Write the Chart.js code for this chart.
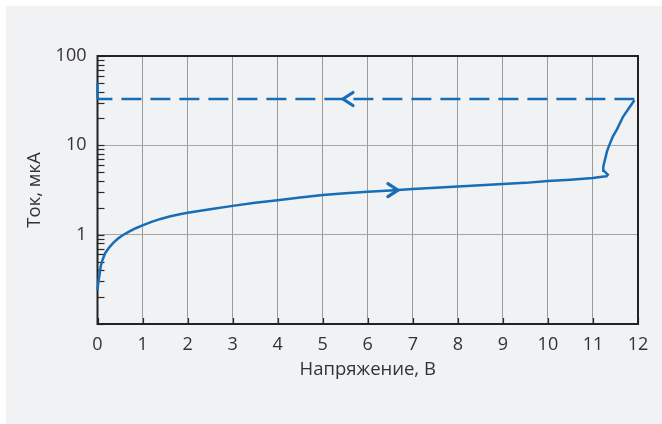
<!DOCTYPE html>
<html>
<head>
<meta charset="utf-8">
<script src="https://cdn.jsdelivr.net/npm/chart.js@4/dist/chart.umd.min.js"></script>
<style>
  html, body { margin: 0; padding: 0; background: #ffffff; }
  canvas { display: block; }
</style>
</head>
<body>
<canvas id="iv" width="662" height="424" style="width:662px;height:424px"></canvas>
<script>
// Forward sweep: voltage (V) and current (µA)
const forwardVoltage = [0, 0.02, 0.04, 0.07, 0.11, 0.17, 0.25, 0.35, 0.45, 0.55, 0.7, 0.85, 1.0, 1.2, 1.4, 1.6, 1.8, 2.0, 2.5, 3.0, 3.5, 4.0, 4.5, 5.0, 5.5, 6.0, 6.5, 7.0, 7.5, 8.0, 8.5, 9.0, 9.5, 10.0, 10.5, 11.0, 11.2, 11.3, 11.33, 11.24, 11.23, 11.27, 11.31, 11.36, 11.44, 11.53, 11.67, 11.82, 11.92];
const forwardCurrent = [0.24, 0.3, 0.34, 0.44, 0.52, 0.62, 0.71, 0.81, 0.9, 0.98, 1.08, 1.18, 1.27, 1.39, 1.5, 1.6, 1.68, 1.76, 1.93, 2.1, 2.28, 2.43, 2.6, 2.78, 2.9, 3.02, 3.13, 3.24, 3.35, 3.47, 3.58, 3.7, 3.8, 3.98, 4.12, 4.3, 4.45, 4.5, 4.7, 5.2, 5.8, 7.0, 8.5, 10, 12.5, 15, 21, 27, 32];

// Reverse sweep (dashed) and the jump at 0 V
const reverseVoltage = [11.92, 0];
const reverseCurrent = [33, 33];
const jumpVoltage = [0, 0];
const jumpCurrent = [33, 50];

// Direction markers on the curves: voltage, current, direction (+1 right, -1 left)
const markerVoltage = [6.67, 5.45];
const markerCurrent = [3.15, 33];
const markerDirection = [1, -1];

// Axis ticks
const xTicks = [0, 1, 2, 3, 4, 5, 6, 7, 8, 9, 10, 11, 12];
const yTicks = [0.1, 0.2, 0.3, 0.4, 0.5, 0.6, 0.7, 0.8, 0.9, 1, 2, 3, 4, 5, 6, 7, 8, 9, 10, 20, 30, 40, 50, 60, 70, 80, 90, 100];

const BLUE = '#176db6';
const FONT = "'Open Sans', 'Noto Sans', sans-serif";
const isDecade = v => Math.abs(Math.log10(v) - Math.round(Math.log10(v))) < 1e-9;

const toPoints = (xs, ys) => xs.map((x, i) => ({ x, y: ys[i] }));

const panelPlugin = {
  id: 'panel',
  beforeDraw(chart) {
    const { ctx, width, height } = chart;
    ctx.save();
    ctx.fillStyle = '#ffffff';
    ctx.fillRect(0, 0, width, height);
    ctx.fillStyle = '#f1f2f4';
    ctx.fillRect(6, 6, width - 6, height - 6);
    ctx.restore();
  },
  beforeDatasetsDraw(chart) {
    const { ctx, chartArea: a, scales } = chart;
    ctx.save();
    ctx.strokeStyle = '#2a2a2a';
    ctx.lineWidth = 1.2;
    // inward ticks on the log axis
    scales.y.ticks.forEach(t => {
      const py = Math.round(scales.y.getPixelForValue(t.value)) + 0.5;
      ctx.beginPath();
      ctx.moveTo(a.left, py);
      ctx.lineTo(a.left + 7, py);
      ctx.stroke();
    });
    // inward ticks on the voltage axis
    scales.x.ticks.forEach(t => {
      const px = Math.round(scales.x.getPixelForValue(t.value)) + 0.5;
      ctx.beginPath();
      ctx.moveTo(px, a.bottom);
      ctx.lineTo(px, a.bottom - 6);
      ctx.stroke();
    });
    // frame
    ctx.lineWidth = 2;
    ctx.strokeStyle = '#222222';
    ctx.strokeRect(a.left, a.top, a.right - a.left, a.bottom - a.top);
    ctx.restore();
  },
  afterDatasetsDraw(chart) {
    const { ctx, scales } = chart;
    ctx.save();
    ctx.strokeStyle = BLUE;
    ctx.lineWidth = 3.2;
    ctx.lineCap = 'round';
    ctx.lineJoin = 'miter';
    markerVoltage.forEach((v, i) => {
      const px = scales.x.getPixelForValue(v);
      const py = scales.y.getPixelForValue(markerCurrent[i]);
      const d = markerDirection[i];
      ctx.beginPath();
      ctx.moveTo(px - d * 10, py - 6.5);
      ctx.lineTo(px, py);
      ctx.lineTo(px - d * 10, py + 6.5);
      ctx.stroke();
    });
    ctx.restore();
  }
};

new Chart(document.getElementById('iv'), {
  type: 'line',
  data: {
    datasets: [
      {
        data: toPoints(forwardVoltage, forwardCurrent),
        borderColor: BLUE, borderWidth: 2.5, pointRadius: 0, tension: 0, clip: false, fill: false
      },
      {
        data: toPoints(reverseVoltage, reverseCurrent),
        borderColor: BLUE, borderWidth: 2.5, borderDash: [20, 9], pointRadius: 0, tension: 0, clip: false, fill: false
      },
      {
        data: toPoints(jumpVoltage, jumpCurrent),
        borderColor: BLUE, borderWidth: 2.5, pointRadius: 0, tension: 0, clip: false, fill: false
      }
    ]
  },
  options: {
    responsive: false,
    animation: false,
    events: [],
    layout: { padding: { left: 20, right: 24, top: 56, bottom: 43 } },
    plugins: { legend: { display: false }, tooltip: { enabled: false } },
    scales: {
      x: {
        type: 'linear',
        min: 0, max: 12,
        afterBuildTicks: s => { s.ticks = xTicks.map(v => ({ value: v })); },
        afterFit: s => { s.height = 57; },
        grid: { color: '#9a9a9a', lineWidth: 1, drawTicks: false },
        border: { display: false },
        ticks: { color: '#333333', padding: 10, font: { family: FONT, size: 18 }, maxRotation: 0, autoSkip: false },
        title: { display: true, text: 'Напряжение, В', color: '#333333', padding: { top: 0, bottom: 0 }, font: { family: FONT, size: 18.5 } }
      },
      y: {
        type: 'logarithmic',
        min: 0.1, max: 100,
        afterBuildTicks: s => { s.ticks = yTicks.map(v => ({ value: v, major: isDecade(v) })); },
        afterFit: s => { s.width = 77.5; },
        grid: {
          color: c => (c.tick && isDecade(c.tick.value) && c.tick.value > 0.1) ? '#a6a6a6' : 'rgba(0,0,0,0)',
          lineWidth: 1, drawTicks: false
        },
        border: { display: false },
        ticks: {
          color: '#333333', padding: 11, autoSkip: false,
          font: { family: FONT, size: 18 },
          callback: v => (isDecade(v) && v >= 1) ? String(v) : ''
        },
        title: { display: true, text: 'Ток, мкА', color: '#333333', padding: { top: 4, bottom: 0 }, font: { family: FONT, size: 18.5 } }
      }
    }
  },
  plugins: [panelPlugin]
});
</script>
</body>
</html>
